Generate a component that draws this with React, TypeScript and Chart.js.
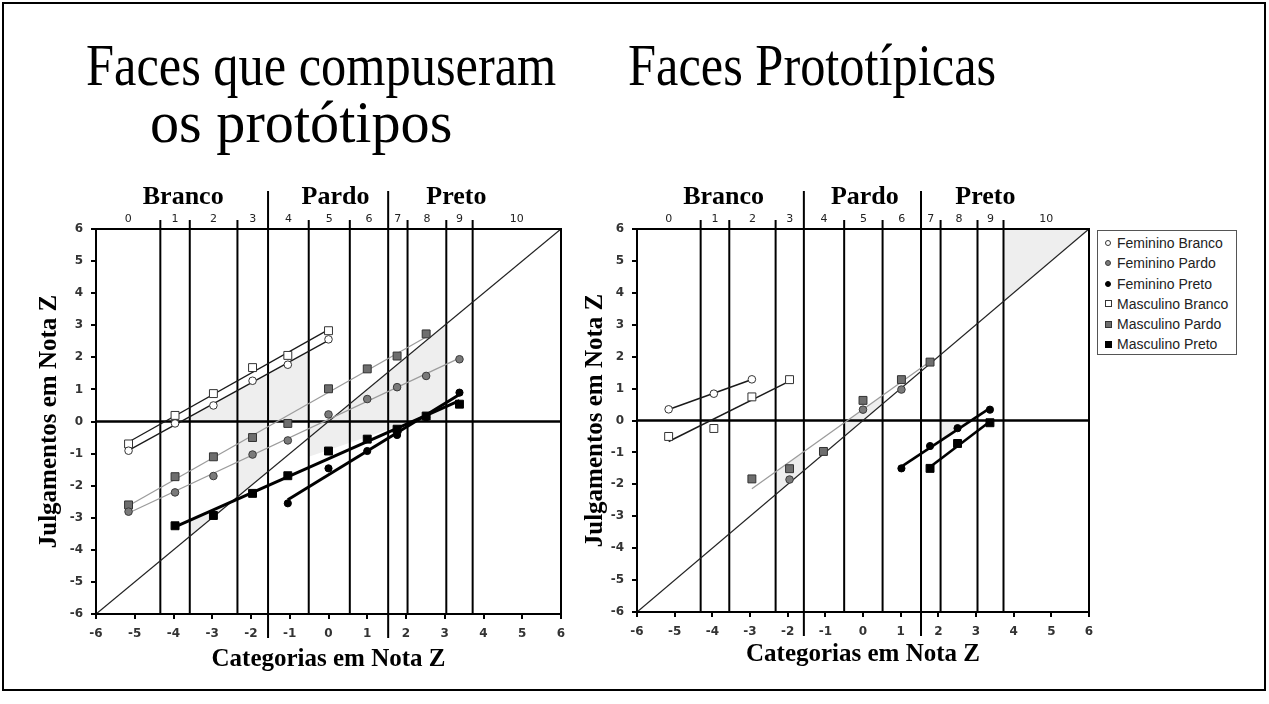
import React, { useEffect, useRef } from "react";
import { Chart, registerables } from "chart.js";

Chart.register(...registerables);

// ---------- shared axis data ----------
const AXIS_MIN = -6;
const AXIS_MAX = 6;
const categoryLabels = ["0", "1", "2", "3", "4", "5", "6", "7", "8", "9", "10"];
const groupNames = ["Branco", "Pardo", "Preto"];
const groupDividerIndex = [3, 6];

// category boundaries (Nota Z) for each panel
const leftBoundaries = [-4.34, -3.58, -2.35, -1.56, -0.51, 0.55, 1.54, 2.04, 3.04, 3.72];
const rightBoundaries = [-4.31, -3.55, -2.32, -1.57, -0.5, 0.52, 1.54, 2.06, 3.04, 3.73];
const leftGroupLabelX = [-3.75, 0.18, 3.3];
const rightGroupLabelX = [-3.7, 0.05, 3.25];

// ---------- left panel: Faces que compuseram os protótipos ----------
const L_FB_X = [-5.16, -3.96, -2.97, -1.96, -1.05, 0];
const L_FB_Y = [-0.91, -0.06, 0.5, 1.27, 1.77, 2.56];
const L_MB_X = [-5.16, -3.96, -2.97, -1.96, -1.05, 0];
const L_MB_Y = [-0.7, 0.19, 0.87, 1.68, 2.06, 2.83];
const L_FP_X = [-5.16, -3.96, -2.97, -1.96, -1.05, 0, 1.0, 1.77, 2.52, 3.38];
const L_FP_Y = [-2.81, -2.21, -1.7, -1.03, -0.59, 0.22, 0.7, 1.07, 1.42, 1.94];
const L_MP_X = [-5.16, -3.96, -2.97, -1.96, -1.05, 0, 1.0, 1.77, 2.52];
const L_MP_Y = [-2.6, -1.72, -1.1, -0.5, -0.06, 1.02, 1.64, 2.04, 2.73];
const L_FPR_X = [-1.05, 0, 1.0, 1.77, 2.52, 3.38];
const L_FPR_Y = [-2.55, -1.46, -0.92, -0.42, 0.13, 0.9];
const L_MPR_X = [-3.96, -2.97, -1.96, -1.05, 0, 1.0, 1.77, 2.52, 3.38];
const L_MPR_Y = [-3.25, -2.93, -2.24, -1.69, -0.92, -0.55, -0.24, 0.17, 0.54];

const leftShadeA = [[-3.8, 0], [-0.51, 2.19], [-0.51, 0]];
const leftShadeB = [[-2.35, 0], [-1.56, 0], [-1.56, -1.56], [-2.35, -2.35]];
const leftShadeC = [[-3.58, -3.08], [-2.5, -2.5], [-3.58, -3.58]];
const leftShadeD = [[0, 0], [3.04, 3.04], [3.04, 0]];
const leftShadeE = [[-0.51, 0], [2.16, 0], [-0.51, -1.1]];

// ---------- right panel: Faces Prototípicas ----------
const R_FB_X = [-5.16, -3.96, -2.95];
const R_FB_Y = [0.35, 0.84, 1.29];
const R_MB_X = [-5.16, -3.96, -2.95, -1.95];
const R_MB_Y = [-0.5, -0.25, 0.74, 1.28];
const R_FP_X = [-1.95, 0, 1.02];
const R_FP_Y = [-1.85, 0.34, 0.97];
const R_MP_X = [-2.95, -1.95, -1.05, 0, 1.02, 1.78];
const R_MP_Y = [-1.83, -1.51, -0.97, 0.63, 1.28, 1.83];
const R_FPR_X = [1.02, 1.78, 2.51, 3.37];
const R_FPR_Y = [-1.5, -0.8, -0.24, 0.34];
const R_MPR_X = [1.78, 2.51, 3.37];
const R_MPR_Y = [-1.5, -0.72, -0.07];

const rightShadeA = [[3.73, 3.73], [6, 6], [3.73, 6]];
const rightShadeB = [[-2.32, -2.32], [-1.57, -1.57], [-1.57, -0.975], [-2.32, -1.61]];
const rightShadeC = [[-0.5, -0.5], [0.52, 0.52], [0.52, 0.79], [-0.5, -0.07]];
const rightShadeD = [[2.06, 0], [2.95, 0], [2.06, -0.69]];

const seriesNames = [
  "Feminino Branco",
  "Feminino Pardo",
  "Feminino Preto",
  "Masculino Branco",
  "Masculino Pardo",
  "Masculino Preto",
];

type Style = {
  shape: "circle" | "rect";
  fill: string;
  border: string;
  radius: number;
  line: string;
};
const STYLES: Record<string, Style> = {
  "Feminino Branco": { shape: "circle", fill: "#ffffff", border: "#333333", radius: 3.8, line: "#1a1a1a" },
  "Feminino Pardo": { shape: "circle", fill: "#7a7a7a", border: "#3a3a3a", radius: 3.8, line: "#9c9c9c" },
  "Feminino Preto": { shape: "circle", fill: "#000000", border: "#000000", radius: 3.6, line: "#000000" },
  "Masculino Branco": { shape: "rect", fill: "#ffffff", border: "#333333", radius: 5.6, line: "#1a1a1a" },
  "Masculino Pardo": { shape: "rect", fill: "#6e6e6e", border: "#333333", radius: 5.6, line: "#9c9c9c" },
  "Masculino Preto": { shape: "rect", fill: "#000000", border: "#000000", radius: 5.6, line: "#000000" },
};

type Pt = { x: number; y: number };
const zip = (xs: number[], ys: number[]): Pt[] => xs.map((x, i) => ({ x, y: ys[i] }));

function trendLine(xs: number[], ys: number[]): Pt[] {
  const n = xs.length;
  const mx = xs.reduce((a, b) => a + b, 0) / n;
  const my = ys.reduce((a, b) => a + b, 0) / n;
  let sxy = 0;
  let sxx = 0;
  for (let i = 0; i < n; i++) {
    sxy += (xs[i] - mx) * (ys[i] - my);
    sxx += (xs[i] - mx) * (xs[i] - mx);
  }
  const m = sxy / sxx;
  const b = my - m * mx;
  const x0 = Math.min(...xs);
  const x1 = Math.max(...xs);
  return [
    { x: x0, y: b + m * x0 },
    { x: x1, y: b + m * x1 },
  ];
}

type Series = { name: string; xs: number[]; ys: number[]; trend: boolean };

type PanelCfg = {
  series: Series[];
  boundaries: number[];
  groupLabelX: number[];
  shades: number[][][];
  lineWidths: { Branco: number; Pardo: number; Preto: number };
  yAxisWidth: number;
  xAxisHeight: number;
  padTop: number;
  padRight: number;
  yTitlePad: number;
  xTitlePad: number;
};

const leftPanel: PanelCfg = {
  series: [
    { name: "Feminino Branco", xs: L_FB_X, ys: L_FB_Y, trend: true },
    { name: "Feminino Pardo", xs: L_FP_X, ys: L_FP_Y, trend: true },
    { name: "Feminino Preto", xs: L_FPR_X, ys: L_FPR_Y, trend: true },
    { name: "Masculino Branco", xs: L_MB_X, ys: L_MB_Y, trend: true },
    { name: "Masculino Pardo", xs: L_MP_X, ys: L_MP_Y, trend: true },
    { name: "Masculino Preto", xs: L_MPR_X, ys: L_MPR_Y, trend: true },
  ],
  boundaries: leftBoundaries,
  groupLabelX: leftGroupLabelX,
  shades: [leftShadeA, leftShadeB, leftShadeC, leftShadeD, leftShadeE],
  lineWidths: { Branco: 1.3, Pardo: 1.3, Preto: 3 },
  yAxisWidth: 96,
  xAxisHeight: 66,
  padTop: 79,
  padRight: 39,
  yTitlePad: 35,
  xTitlePad: 5,
};

const rightPanel: PanelCfg = {
  series: [
    { name: "Feminino Branco", xs: R_FB_X, ys: R_FB_Y, trend: true },
    { name: "Feminino Pardo", xs: R_FP_X, ys: R_FP_Y, trend: false },
    { name: "Feminino Preto", xs: R_FPR_X, ys: R_FPR_Y, trend: true },
    { name: "Masculino Branco", xs: R_MB_X, ys: R_MB_Y, trend: true },
    { name: "Masculino Pardo", xs: R_MP_X, ys: R_MP_Y, trend: true },
    { name: "Masculino Preto", xs: R_MPR_X, ys: R_MPR_Y, trend: true },
  ],
  boundaries: rightBoundaries,
  groupLabelX: rightGroupLabelX,
  shades: [rightShadeA, rightShadeB, rightShadeC, rightShadeD],
  lineWidths: { Branco: 1.5, Pardo: 1.3, Preto: 2.6 },
  yAxisWidth: 87,
  xAxisHeight: 68,
  padTop: 79,
  padRight: 41,
  yTitlePad: 31,
  xTitlePad: 10,
};

function makePlugin(cfg: PanelCfg) {
  return {
    id: "panelOverlay",
    beforeDatasetsDraw(chart: any) {
      const { ctx, chartArea: a } = chart;
      const xs = chart.scales.x;
      const ys = chart.scales.y;
      // shaded regions
      ctx.save();
      ctx.beginPath();
      ctx.rect(a.left, a.top, a.right - a.left, a.bottom - a.top);
      ctx.clip();
      ctx.fillStyle = "#eeeeee";
      for (const poly of cfg.shades) {
        ctx.beginPath();
        poly.forEach(([px, py], i) => {
          const X = xs.getPixelForValue(px);
          const Y = ys.getPixelForValue(py);
          if (i === 0) ctx.moveTo(X, Y);
          else ctx.lineTo(X, Y);
        });
        ctx.closePath();
        ctx.fill();
      }
      ctx.restore();
      // category boundaries
      ctx.save();
      ctx.strokeStyle = "#000";
      ctx.lineWidth = 2;
      cfg.boundaries.forEach((b, i) => {
        const X = xs.getPixelForValue(b);
        const isGroup = groupDividerIndex.includes(i);
        const top = isGroup ? a.top - 38 : a.top - 9;
        const bottom = isGroup ? a.bottom + 24 : a.bottom;
        ctx.beginPath();
        ctx.moveTo(X, top);
        ctx.lineTo(X, bottom);
        ctx.stroke();
      });
      // zero line
      const Y0 = ys.getPixelForValue(0);
      ctx.lineWidth = 2.6;
      ctx.beginPath();
      ctx.moveTo(a.left, Y0);
      ctx.lineTo(a.right, Y0);
      ctx.stroke();
      ctx.restore();
    },
    afterDatasetsDraw(chart: any) {
      const { ctx, chartArea: a } = chart;
      ctx.save();
      ctx.strokeStyle = "#000";
      ctx.lineWidth = 2;
      ctx.strokeRect(a.left, a.top, a.right - a.left, a.bottom - a.top);
      ctx.restore();
    },
    afterDraw(chart: any) {
      const { ctx, chartArea: a } = chart;
      const xs = chart.scales.x;
      ctx.save();
      // category numbers
      const edges = [AXIS_MIN, ...cfg.boundaries, AXIS_MAX];
      ctx.fillStyle = "#222";
      ctx.font = '11px "DejaVu Sans"';
      ctx.textAlign = "center";
      ctx.textBaseline = "alphabetic";
      categoryLabels.forEach((lab, i) => {
        const mid = (edges[i] + edges[i + 1]) / 2;
        ctx.fillText(lab, xs.getPixelForValue(mid), a.top - 7);
      });
      // group names
      ctx.fillStyle = "#000";
      ctx.font = 'bold 26px "Liberation Serif"';
      groupNames.forEach((g, i) => {
        ctx.fillText(g, xs.getPixelForValue(cfg.groupLabelX[i]), a.top - 25);
      });
      ctx.restore();
    },
  };
}

function groupOf(name: string): "Branco" | "Pardo" | "Preto" {
  if (name.endsWith("Branco")) return "Branco";
  if (name.endsWith("Pardo")) return "Pardo";
  return "Preto";
}

function buildChart(canvas: HTMLCanvasElement, cfg: PanelCfg) {
  const datasets: any[] = [];
  cfg.series.forEach((s) => {
    const st = STYLES[s.name];
    datasets.push({
      label: s.name,
      data: zip(s.xs, s.ys),
      pointStyle: st.shape,
      pointRadius: st.radius,
      pointBackgroundColor: st.fill,
      pointBorderColor: st.border,
      pointBorderWidth: 1,
      showLine: false,
      order: 0,
    });
  });
  cfg.series.forEach((s) => {
    if (!s.trend) return;
    const st = STYLES[s.name];
    datasets.push({
      label: s.name + " (tendência)",
      data: trendLine(s.xs, s.ys),
      showLine: true,
      borderColor: st.line,
      borderWidth: cfg.lineWidths[groupOf(s.name)],
      pointRadius: 0,
      order: 1,
    });
  });
  datasets.push({
    label: "diagonal",
    data: [
      { x: AXIS_MIN, y: AXIS_MIN },
      { x: AXIS_MAX, y: AXIS_MAX },
    ],
    showLine: true,
    borderColor: "#222",
    borderWidth: 1.3,
    pointRadius: 0,
    order: 2,
  });

  const tickFont = { family: "DejaVu Sans", size: 12, weight: "bold" as const };
  const titleFont = { family: "Liberation Serif", size: 25, weight: "bold" as const };

  return new Chart(canvas, {
    type: "scatter",
    data: { datasets },
    options: {
      animation: false,
      responsive: false,
      events: [],
      layout: { padding: { top: cfg.padTop, right: cfg.padRight, left: 0, bottom: 0 } },
      plugins: { legend: { display: false }, tooltip: { enabled: false } },
      scales: {
        x: {
          type: "linear",
          min: AXIS_MIN,
          max: AXIS_MAX,
          ticks: { stepSize: 1, color: "#333", font: tickFont, padding: 8, maxRotation: 0 },
          grid: { drawOnChartArea: false, drawTicks: true, tickLength: 5, color: "#000", lineWidth: 2 },
          border: { display: true, color: "#000", width: 2 },
          title: {
            display: true,
            text: "Categorias em Nota Z",
            color: "#000",
            font: titleFont,
            padding: { top: 0, bottom: cfg.xTitlePad },
          },
          afterFit: (scale: any) => {
            scale.height = cfg.xAxisHeight;
          },
        },
        y: {
          type: "linear",
          min: AXIS_MIN,
          max: AXIS_MAX,
          ticks: { stepSize: 1, color: "#333", font: tickFont, padding: 8 },
          grid: { drawOnChartArea: false, drawTicks: true, tickLength: 5, color: "#000", lineWidth: 2 },
          border: { display: true, color: "#000", width: 2 },
          title: {
            display: true,
            text: "Julgamentos em Nota Z",
            color: "#000",
            font: titleFont,
            padding: { top: cfg.yTitlePad, bottom: 0 },
          },
          afterFit: (scale: any) => {
            scale.width = cfg.yAxisWidth;
          },
        },
      },
    } as any,
    plugins: [makePlugin(cfg)],
  });
}

function Panel({ cfg, left, top, width, height }: { cfg: PanelCfg; left: number; top: number; width: number; height: number }) {
  const ref = useRef<HTMLCanvasElement | null>(null);
  useEffect(() => {
    if (!ref.current) return;
    const chart = buildChart(ref.current, cfg);
    return () => chart.destroy();
  }, [cfg]);
  return (
    <canvas
      ref={ref}
      width={width}
      height={height}
      style={{ position: "absolute", left, top, width, height }}
    />
  );
}

function LegendMarker({ name }: { name: string }) {
  const st = STYLES[name];
  const size = st.shape === "rect" ? 7 : 6;
  return (
    <span
      style={{
        position: "absolute",
        left: 10 - size / 2,
        top: 10 - size / 2,
        width: size,
        height: size,
        boxSizing: "border-box",
        background: st.fill,
        border: `1px solid ${st.border}`,
        borderRadius: st.shape === "circle" ? "50%" : 0,
      }}
    />
  );
}

const titleStyle: React.CSSProperties = {
  position: "absolute",
  fontFamily: '"Liberation Serif", serif',
  fontSize: 60,
  lineHeight: "60px",
  whiteSpace: "nowrap",
  color: "#000",
  transform: "scaleX(0.84)",
  transformOrigin: "0 0",
};

export default function App() {
  return (
    <div
      style={{
        position: "fixed",
        left: 0,
        top: 0,
        width: 1269,
        height: 704,
        background: "#fff",
        overflow: "hidden",
      }}
    >
      <div
        style={{
          position: "absolute",
          left: 2,
          top: 2,
          width: 1264,
          height: 689,
          border: "2px solid #000",
          boxSizing: "border-box",
        }}
      />
      <div style={{ ...titleStyle, left: 86, top: 35 }}>Faces que compuseram</div>
      <div style={{ ...titleStyle, left: 150, top: 92, transform: "scaleX(0.97)" }}>os protótipos</div>
      <div style={{ ...titleStyle, left: 628, top: 35 }}>Faces Prototípicas</div>

      <Panel cfg={leftPanel} left={0} top={150} width={600} height={530} />
      <Panel cfg={rightPanel} left={550} top={150} width={580} height={530} />

      <div
        style={{
          position: "absolute",
          left: 1097,
          top: 230,
          width: 140,
          height: 125,
          border: "1px solid #555",
          boxSizing: "border-box",
          background: "#fff",
          paddingTop: 2,
        }}
      >
        {seriesNames.map((n) => (
          <div key={n} style={{ position: "relative", height: 20.3 }}>
            <LegendMarker name={n} />
            <span
              style={{
                position: "absolute",
                left: 19,
                top: 0,
                lineHeight: "20px",
                fontFamily: '"Liberation Sans", Arial, sans-serif',
                fontSize: 14,
                color: "#222",
                whiteSpace: "nowrap",
              }}
            >
              {n}
            </span>
          </div>
        ))}
      </div>
    </div>
  );
}
